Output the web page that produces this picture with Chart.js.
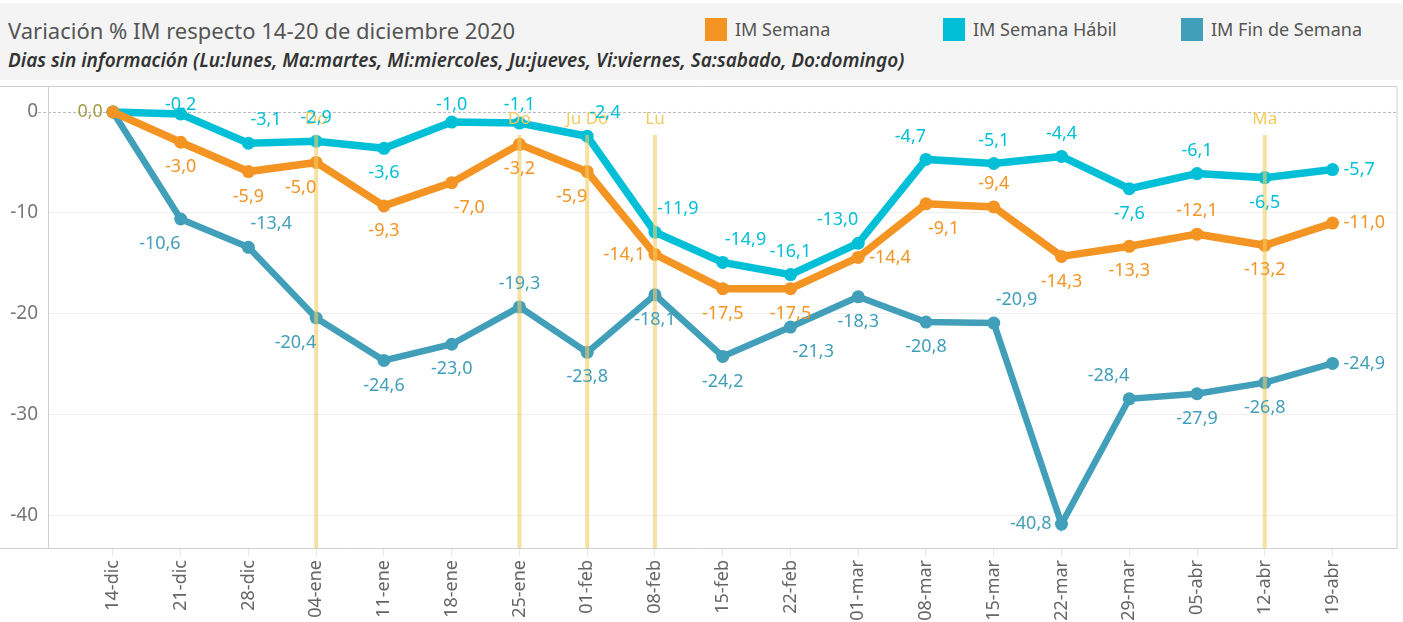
<!DOCTYPE html>
<html lang="es">
<head>
    <meta charset="UTF-8">
    <title>Variación % IM respecto 14-20 de diciembre 2020</title>
    <style>
        body {
            margin: 0;
            padding: 0;
            width: 1403px;
            height: 622px;
            overflow: hidden;
            background: #fff;
            font-family: "Noto Sans", sans-serif;
            position: relative;
        }
        #cabecera {
            position: absolute;
            top: 3px;
            left: 0;
            width: 1403px;
            height: 77px;
            background-color: #f4f4f4;
        }
        .titulo {
            position: absolute;
            left: 8px;
            top: 12px;
            font-size: 22px;
            color: #555;
        }
        .subtitulo {
            position: absolute;
            left: 8px;
            top: 44px;
            font-size: 19px;
            font-style: italic;
            font-weight: 600;
            color: #333;
        }
        .leyenda-item {
            position: absolute;
            top: 15px;
            font-size: 18px;
            color: #555;
            line-height: 23px;
        }
        .leyenda-item span {
            display: inline-block;
            width: 22px;
            height: 23px;
            vertical-align: top;
            margin-right: 8px;
        }
        #grafico {
            position: absolute;
            top: 0;
            left: 0;
        }
    </style>
    <script src="https://cdn.jsdelivr.net/npm/chart.js@4.4.0/dist/chart.umd.min.js"></script>
</head>
<body>
    <canvas id="grafico" width="1403" height="622"></canvas>
    <div id="cabecera">
        <div class="titulo">Variación % IM respecto 14-20 de diciembre 2020</div>
        <div class="subtitulo">Dias sin información (Lu:lunes, Ma:martes, Mi:miercoles, Ju:jueves, Vi:viernes, Sa:sabado, Do:domingo)</div>
    </div>

    <script>
        // semanas (categorías del eje x)
        const semanas = ['14-dic', '21-dic', '28-dic', '04-ene', '11-ene', '18-ene', '25-ene', '01-feb', '08-feb',
            '15-feb', '22-feb', '01-mar', '08-mar', '15-mar', '22-mar', '29-mar', '05-abr', '12-abr', '19-abr'];

        // series
        const nombres = ['IM Semana', 'IM Semana Hábil', 'IM Fin de Semana'];
        const imSemana = [0.0, -3.0, -5.9, -5.0, -9.3, -7.0, -3.2, -5.9, -14.1, -17.5, -17.5, -14.4, -9.1, -9.4, -14.3, -13.3, -12.1, -13.2, -11.0];
        const imHabil = [0.0, -0.2, -3.1, -2.9, -3.6, -1.0, -1.1, -2.4, -11.9, -14.9, -16.1, -13.0, -4.7, -5.1, -4.4, -7.6, -6.1, -6.5, -5.7];
        const imFinde = [0.0, -10.6, -13.4, -20.4, -24.6, -23.0, -19.3, -23.8, -18.1, -24.2, -21.3, -18.3, -20.8, -20.9, -40.8, -28.4, -27.9, -26.8, -24.9];

        // días sin información
        const diasSemanas = ['04-ene', '25-ene', '01-feb', '08-feb', '12-abr'];
        const diasTexto = ['Do', 'Do', 'Ju Do', 'Lu', 'Ma'];

        // eje y
        const yTicks = [0, -10, -20, -30, -40];

        const colores = ['#f39423', '#00bfd6', '#429fba'];

        // dónde va cada etiqueta respecto al punto (t: arriba, b: abajo, l/r: lado)
        const posSemana = ['l', 'b', 'b', 'bl', 'b', 'br', 'b', 'bl', 'l', 'b', 'b', 'r', 'br', 't', 'b', 'b', 't', 'b', 'r'];
        const posHabil = [null, 't', 'tr', 't', 'b', 't', 't', 'tr', 'tr', 'tr', 't', 'tl', 'tl', 't', 't', 'b', 't', 'b', 'r'];
        const posFinde = [null, 'bl', 'tr', 'bl', 'b', 'b', 't', 'b', 'b', 'b', 'br', 'b', 'b', 'tr', 'l', 'tl', 'b', 'b', 'r'];

        // leyenda en la cabecera
        const cabecera = document.getElementById('cabecera');
        const leyendaX = [705, 943, 1181];
        nombres.forEach((n, i) => {
            const item = document.createElement('div');
            item.className = 'leyenda-item';
            item.style.left = leyendaX[i] + 'px';
            item.innerHTML = '<span style="background:' + colores[i] + '"></span>' + n;
            cabecera.appendChild(item);
        });

        function fmt(v) {
            return v.toFixed(1).replace('.', ',');
        }

        function serie(valores) {
            return valores.map((v, i) => ({ x: i, y: v }));
        }

        // marco, línea del cero y etiquetas de datos
        const dibujos = {
            id: 'dibujos',
            beforeDatasetsDraw(chart) {
                const ctx = chart.ctx;
                const a = chart.chartArea;
                const y0 = chart.scales.y.getPixelForValue(0);
                ctx.save();
                ctx.strokeStyle = '#b8b8b8';
                ctx.lineWidth = 1;
                ctx.setLineDash([3, 2]);
                ctx.beginPath();
                ctx.moveTo(a.left - 10, y0 + 0.5);
                ctx.lineTo(a.right, y0 + 0.5);
                ctx.stroke();
                ctx.restore();
            },
            afterDatasetsDraw(chart) {
                const ctx = chart.ctx;
                const a = chart.chartArea;
                const xs = chart.scales.x;

                // líneas amarillas de días sin información
                ctx.save();
                diasSemanas.forEach((d, k) => {
                    const px = xs.getPixelForValue(semanas.indexOf(d));
                    ctx.strokeStyle = 'rgba(240, 205, 100, 0.6)';
                    ctx.lineWidth = 4;
                    ctx.beginPath();
                    ctx.moveTo(px, a.top + 49);
                    ctx.lineTo(px, a.bottom);
                    ctx.stroke();
                    ctx.fillStyle = '#f2cb5e';
                    ctx.font = '17px "Noto Sans"';
                    ctx.textAlign = 'center';
                    ctx.textBaseline = 'middle';
                    ctx.fillText(diasTexto[k], px, a.top + 33);
                });
                ctx.restore();

                // etiquetas de valores
                ctx.save();
                ctx.font = '18px "Noto Sans"';
                ctx.textBaseline = 'middle';
                chart.data.datasets.forEach((ds, di) => {
                    const meta = chart.getDatasetMeta(di);
                    meta.data.forEach((pt, i) => {
                        const pos = ds.posEtiquetas[i];
                        if (!pos) return;
                        let x = pt.x, y = pt.y;
                        ctx.textAlign = 'center';
                        if (pos[0] === 't') y -= 23;
                        if (pos[0] === 'b') y += 25;
                        if (pos === 'l') { ctx.textAlign = 'right'; x -= 10; }
                        if (pos === 'r') { ctx.textAlign = 'left'; x += 11; }
                        if (pos.length === 2 && pos[1] === 'r') { ctx.textAlign = 'left'; x += 2; }
                        if (pos.length === 2 && pos[1] === 'l') { ctx.textAlign = 'right'; }
                        y = Math.max(y, a.top + 19);
                        ctx.fillStyle = (i === 0) ? '#a49c48' : ds.borderColor;
                        ctx.fillText(fmt(ds.data[i].y), x, y);
                    });
                });
                ctx.restore();

                // marco
                ctx.save();
                ctx.strokeStyle = '#cfcfcf';
                ctx.lineWidth = 1;
                ctx.beginPath();
                ctx.moveTo(0, a.top + 0.5);
                ctx.lineTo(a.right + 0.5, a.top + 0.5);
                ctx.lineTo(a.right + 0.5, a.bottom + 0.5);
                ctx.lineTo(0, a.bottom + 0.5);
                ctx.moveTo(a.left + 0.5, a.top);
                ctx.lineTo(a.left + 0.5, a.bottom);
                ctx.stroke();
                ctx.restore();
            }
        };

        const series = [imSemana, imHabil, imFinde];
        const posiciones = [posSemana, posHabil, posFinde];

        new Chart(document.getElementById('grafico'), {
            type: 'line',
            data: {
                datasets: series.map((s, i) => ({
                    label: nombres[i],
                    data: serie(s),
                    borderColor: colores[i],
                    backgroundColor: colores[i],
                    borderWidth: i === 2 ? 6.5 : 7.5,
                    pointRadius: 6.5,
                    pointHoverRadius: 6.5,
                    pointBorderWidth: 0,
                    tension: 0,
                    posEtiquetas: posiciones[i]
                }))
            },
            options: {
                responsive: false,
                animation: false,
                layout: {
                    padding: { top: 86, right: 5, left: 0, bottom: 0 }
                },
                plugins: {
                    legend: { display: false },
                    tooltip: { enabled: false }
                },
                scales: {
                    x: {
                        type: 'linear',
                        min: -0.958,
                        max: 18.944,
                        afterBuildTicks: (axis) => {
                            axis.ticks = semanas.map((s, i) => ({ value: i }));
                        },
                        afterFit: (axis) => { axis.height = 74; },
                        ticks: {
                            autoSkip: false,
                            minRotation: 90,
                            maxRotation: 90,
                            padding: 4,
                            color: '#666',
                            font: { family: 'Noto Sans', size: 18 },
                            callback: (v) => semanas[v]
                        },
                        grid: {
                            drawOnChartArea: false,
                            drawTicks: true,
                            tickLength: 8,
                            color: '#e8e8e8'
                        },
                        border: { display: false }
                    },
                    y: {
                        min: -43.17,
                        max: 2.57,
                        afterBuildTicks: (axis) => {
                            axis.ticks = yTicks.map((v) => ({ value: v }));
                        },
                        afterFit: (axis) => { axis.width = 48; },
                        ticks: {
                            padding: 10,
                            color: '#777',
                            font: { family: 'Noto Sans', size: 19 }
                        },
                        grid: {
                            drawTicks: false,
                            color: (c) => (c.tick && c.tick.value === 0) ? 'rgba(0,0,0,0)' : '#efefef'
                        },
                        border: { display: false }
                    }
                }
            },
            plugins: [dibujos]
        });
    </script>
</body>
</html>
